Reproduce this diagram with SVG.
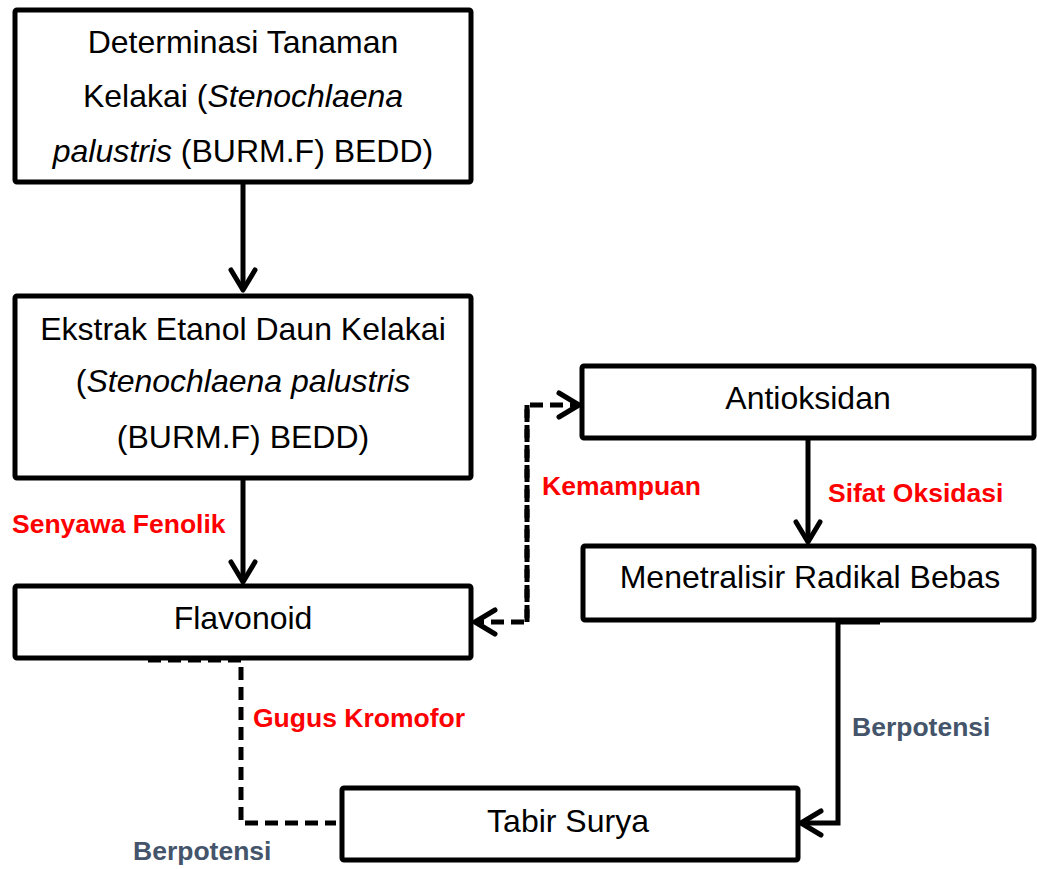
<svg xmlns="http://www.w3.org/2000/svg" width="1037" height="869" viewBox="0 0 1037 869">
<style>
.box{fill:#fff;stroke:#000;stroke-width:5}
.t{font-family:"Liberation Sans",Arial,sans-serif;font-size:32px;fill:#000;text-anchor:middle}
.i{font-style:italic}
.lbl{font-family:"Liberation Sans",Arial,sans-serif;font-size:26.5px;font-weight:bold}
.red{fill:#FF0000}
.slate{fill:#44546A}
.c{fill:none;stroke:#000;stroke-width:5}
.d{stroke-dasharray:13 7}
</style>
<defs>
<marker id="ah" viewBox="-26 -16 30 32" refX="0" refY="0" markerWidth="30" markerHeight="32" markerUnits="userSpaceOnUse" orient="auto">
<path d="M-20,-12 L0,0 L-20,12" fill="none" stroke="#000" stroke-width="5" stroke-linecap="round" stroke-linejoin="round"/>
</marker>
</defs>
<rect width="1037" height="869" fill="#fff"/>
<g id="connectors">
<line class="c" x1="243" y1="184" x2="243" y2="290" marker-end="url(#ah)"/>
<line class="c" x1="243" y1="478" x2="243" y2="582" marker-end="url(#ah)"/>
<line class="c" x1="808" y1="438" x2="808" y2="542" marker-end="url(#ah)"/>
<path class="c d" d="M527,622 V405 H579" marker-end="url(#ah)"/>
<path class="c d" d="M527,405 V622 H475" marker-end="url(#ah)"/>
<path class="c d" d="M148,660 H241 V823 H336"/>
<path class="c" d="M838,620 V823 H801" marker-end="url(#ah)"/>
<line class="c" x1="838" y1="622" x2="880" y2="622"/>
</g>
<g id="node-determinasi">
<rect class="box" x="15" y="10" width="456" height="172" rx="2"/>
<text class="t" x="243" y="53">Determinasi Tanaman</text>
<text class="t" x="243" y="107">Kelakai (<tspan class="i">Stenochlaena</tspan></text>
<text class="t" x="243" y="162"><tspan class="i">palustris</tspan> (BURM.F) BEDD)</text>
</g>
<g id="node-ekstrak">
<rect class="box" x="15" y="296" width="456" height="182" rx="2"/>
<text class="t" x="243" y="340">Ekstrak Etanol Daun Kelakai</text>
<text class="t" x="243" y="392">(<tspan class="i">Stenochlaena palustris</tspan></text>
<text class="t" x="243" y="448">(BURM.F) BEDD)</text>
</g>
<g id="node-flavonoid">
<rect class="box" x="15" y="586" width="456" height="72" rx="2"/>
<text class="t" x="243" y="629">Flavonoid</text>
</g>
<g id="node-antioksidan">
<rect class="box" x="582" y="366" width="452" height="72" rx="2"/>
<text class="t" x="808" y="409">Antioksidan</text>
</g>
<g id="node-menetralisir">
<rect class="box" x="583" y="546" width="451" height="74" rx="2"/>
<text class="t" x="810" y="588">Menetralisir Radikal Bebas</text>
</g>
<g id="node-tabir">
<rect class="box" x="342" y="788" width="456" height="72" rx="2"/>
<text class="t" x="568" y="832">Tabir Surya</text>
</g>
<g id="labels">
<text class="lbl red" x="12" y="533">Senyawa Fenolik</text>
<text class="lbl red" x="542" y="495">Kemampuan</text>
<text class="lbl red" x="828" y="502">Sifat Oksidasi</text>
<text class="lbl red" x="253" y="727">Gugus Kromofor</text>
<text class="lbl slate" x="852" y="736">Berpotensi</text>
<text class="lbl slate" x="133" y="860">Berpotensi</text>
</g>
</svg>
